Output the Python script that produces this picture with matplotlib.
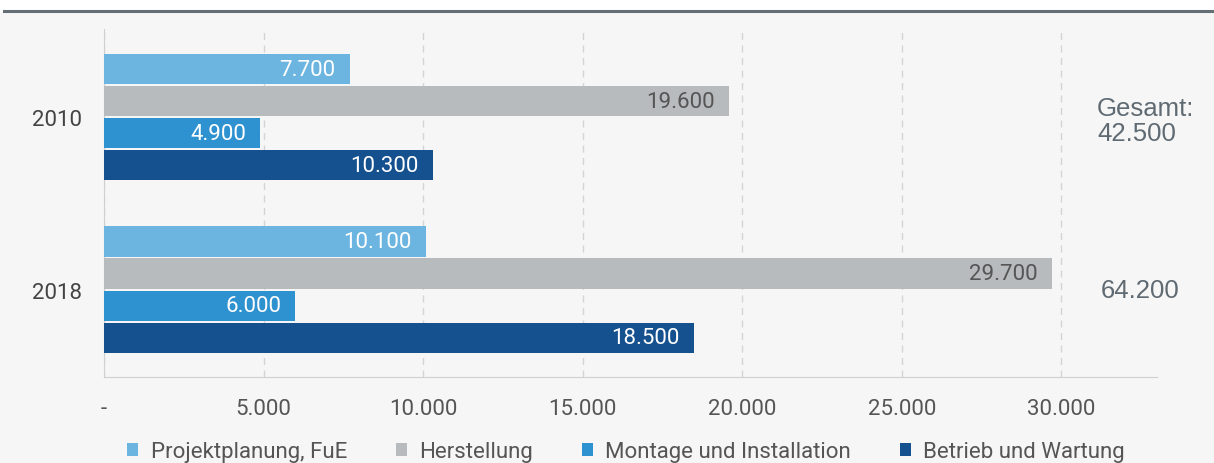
import numpy as np
import matplotlib.pyplot as plt
from matplotlib.lines import Line2D

# Daten
jahre = ["2010", "2018"]
serien = ["Projektplanung, FuE", "Herstellung", "Montage und Installation", "Betrieb und Wartung"]
werte = {
    "Projektplanung, FuE": [7700, 10100],
    "Herstellung": [19600, 29700],
    "Montage und Installation": [4900, 6000],
    "Betrieb und Wartung": [10300, 18500],
}
gesamt = ["Gesamt:\n42.500", "64.200"]
xticks = [0, 5000, 10000, 15000, 20000, 25000, 30000]
xticklabels = ["-", "5.000", "10.000", "15.000", "20.000", "25.000", "30.000"]

farben = ["#6cb5e1", "#b7bbbd", "#2e91d0", "#15508f"]
textfarben = ["white", "#555555", "white", "white"]

plt.rcParams['font.family'] = ['Roboto', 'DejaVu Sans']

fig = plt.figure(figsize=(12.14, 4.64), dpi=100)
fig.patch.set_facecolor("white")
# Hintergrund + obere Linie
fig.add_artist(plt.Rectangle((0, 0), 1, 1 - 13 / 464, transform=fig.transFigure,
                             facecolor="#f6f6f6", edgecolor="none", zorder=-10))
fig.add_artist(Line2D([4 / 1214, 1], [1 - 12 / 464, 1 - 12 / 464], transform=fig.transFigure,
                      color="#646e75", lw=2.2))

ax = fig.add_axes([104 / 1214, 1 - 378 / 464, (1157 - 104) / 1214, (378 - 30) / 464])
ax.set_facecolor("none")

y = np.arange(len(jahre))
h = 0.177
schritt = 0.1855
for i, s in enumerate(serien):
    pos = y + (i - 1.5) * schritt
    bars = ax.barh(pos, werte[s], height=h, color=farben[i], label=s, zorder=3)
    for b, v in zip(bars, werte[s]):
        txt = f"{v:,}".replace(",", ".")
        ax.text(v - 450, b.get_y() + b.get_height() / 2, txt, ha="right", va="center",
                color=textfarben[i], fontsize=16, zorder=4)

ax.set_ylim(1.505, -0.51)
ax.set_xlim(0, 33000)
ax.set_yticks(y)
ax.set_yticklabels(jahre, fontsize=16, color="#444444")
ax.set_xticks(xticks)
ax.set_xticklabels(xticklabels, fontsize=16, color="#555555")
ax.tick_params(axis="x", length=0, pad=15)
ax.tick_params(axis="y", length=0, pad=16)
ax.grid(axis="x", color="#d4d4d4", linestyle=(0, (5, 4)), lw=1, zorder=0)
for sp in ["top", "right"]:
    ax.spines[sp].set_visible(False)
ax.spines["bottom"].set_color("#d0d0d0")
ax.spines["left"].set_color("#d0d0d0")

# Gesamtwerte
ax.text(31120, 0.02, gesamt[0], ha="left", va="center", fontsize=18.5,
        color="#5f6a72", linespacing=1.1, family=["Liberation Sans", "DejaVu Sans"])
ax.text(31245, 1.0, gesamt[1], ha="left", va="center", fontsize=18.5,
        color="#5f6a72", family=["Liberation Sans", "DejaVu Sans"])

leg = fig.legend(loc="center", bbox_to_anchor=(626 / 1214, 1 - 453 / 464), ncol=4, frameon=False,
                 fontsize=16, handlelength=0.5, handleheight=0.5, columnspacing=2.2,
                 handletextpad=0.55)
for t in leg.get_texts():
    t.set_color("#555555")

fig.savefig("out.png", dpi=100, facecolor=fig.get_facecolor())
